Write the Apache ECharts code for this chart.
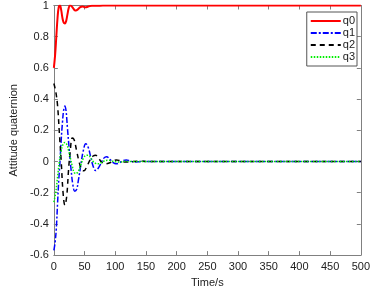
<!DOCTYPE html>
<html>
<head>
    <meta charset="UTF-8">
    <title>Attitude quaternion</title>
    <script src="https://cdn.jsdelivr.net/npm/echarts@6/dist/echarts.min.js"></script>
</head>
<body style="margin:0;overflow:hidden;background:#fff;">
<div id="chart" style="width:373px;height:293px;"></div>
<script type="text/javascript">
    // [time (s), value] samples
    var q0Data = [[0, 0.6], [2, 0.68], [4, 0.8], [6, 0.92], [8, 0.99], [10, 1.0], [12, 0.97], [14, 0.92], [16, 0.89], [18, 0.885],
        [20, 0.9], [22, 0.94], [24, 0.98], [26, 1.0], [28, 0.998], [31, 0.985], [34, 0.97], [36, 0.968], [39, 0.975], [43, 0.99],
        [47, 0.993], [51, 0.988], [56, 0.993], [62, 0.999], [70, 0.998], [80, 1.0], [100, 1.0], [150, 1.0], [500, 1.0]];
    var q1Data = [[0, -0.57], [2, -0.52], [4, -0.43], [6, -0.27], [8, -0.12], [10, 0.0], [12, 0.14], [14, 0.25], [16, 0.33],
        [18, 0.355], [20, 0.32], [22, 0.22], [25, 0.08], [28, -0.05], [31, -0.15], [34, -0.19], [37, -0.18], [40, -0.12],
        [44, -0.02], [48, 0.07], [52, 0.114], [56, 0.09], [60, 0.03], [64, -0.03], [68, -0.058], [72, -0.045], [77, -0.01],
        [81, 0.02], [86, 0.031], [91, 0.015], [96, -0.005], [101, -0.015], [106, -0.01], [112, 0.004], [118, 0.01],
        [124, 0.004], [130, -0.003], [138, -0.002], [145, 0.001], [155, 0], [200, 0], [500, 0]];
    var q2Data = [[0, 0.5], [3, 0.45], [6, 0.36], [9, 0.18], [12, 0.0], [15, -0.2], [18, -0.28], [21, -0.22], [24, -0.05],
        [27, 0.08], [30, 0.15], [33, 0.14], [37, 0.07], [41, 0.0], [45, -0.05], [49, -0.06], [54, -0.03], [59, 0.01],
        [64, 0.035], [68, 0.04], [73, 0.02], [78, -0.005], [84, -0.015], [90, -0.01], [96, 0.003], [102, 0.01],
        [108, 0.005], [115, -0.003], [122, -0.004], [130, 0.0], [140, 0.002], [150, 0], [200, 0], [500, 0]];
    var q3Data = [[0, -0.26], [3, -0.2], [6, -0.1], [9, 0.0], [12, 0.07], [15, 0.11], [18, 0.122], [21, 0.11], [24, 0.07],
        [27, 0.02], [30, -0.03], [33, -0.07], [36, -0.078], [40, -0.06], [44, -0.02], [48, 0.02], [52, 0.038], [56, 0.04],
        [60, 0.025], [64, 0.0], [68, -0.012], [72, -0.015], [77, -0.008], [82, 0.003], [88, 0.008], [94, 0.004],
        [100, -0.002], [108, -0.003], [116, 0.001], [125, 0], [200, 0], [500, 0]];
    var seriesNames = ['q0', 'q1', 'q2', 'q3'];

    var axisColor = '#808080';
    var font = 'Liberation Sans, Arial, sans-serif';

    function boxAxis(pos, isX) {
        return {
            type: 'value',
            position: pos,
            min: isX ? 0 : -0.6,
            max: isX ? 500 : 1,
            interval: isX ? 50 : 0.2,
            axisLine: {show: true, onZero: false, lineStyle: {color: axisColor, width: 1}},
            axisTick: {show: true, inside: true, length: 4, lineStyle: {color: axisColor}},
            splitLine: {show: false},
            axisLabel: {show: false}
        };
    }

    var xMain = boxAxis('bottom', true);
    xMain.axisLabel = {show: true, color: '#222', fontSize: 11, fontFamily: font, margin: 6};
    xMain.name = 'Time/s';
    xMain.nameLocation = 'middle';
    xMain.nameGap = 19;
    xMain.nameTextStyle = {color: '#222', fontSize: 11, fontFamily: font};
    var xTop = boxAxis('top', true);

    var yMain = boxAxis('left', false);
    yMain.axisLabel = {show: true, color: '#222', fontSize: 11, fontFamily: font, margin: 5,
        formatter: function (v) { return String(Math.round(v * 10) / 10); }};
    yMain.name = 'Attitude quaternion';
    yMain.nameLocation = 'middle';
    yMain.nameGap = 29;
    yMain.nameTextStyle = {color: '#222', fontSize: 11, fontFamily: font};
    var yRight = boxAxis('right', false);

    var chart = echarts.init(document.getElementById('chart'), null, {renderer: 'canvas'});
    chart.setOption({
        animation: false,
        backgroundColor: '#fff',
        grid: {left: 36, right: 10, top: 5, bottom: 30},
        legend: {
            data: seriesNames,
            orient: 'vertical',
            right: 16,
            top: 12,
            backgroundColor: '#fff',
            borderColor: '#555',
            borderWidth: 1,
            borderRadius: 0,
            padding: [3, 2, 3, 3],
            itemGap: 0,
            itemWidth: 30,
            itemHeight: 12,
            itemStyle: {opacity: 0},
            textStyle: {color: '#222', fontSize: 11, fontFamily: font, lineHeight: 12, padding: [0, 0, 0, -3]}
        },
        xAxis: [xMain, xTop],
        yAxis: [yMain, yRight],
        series: [
            {name: 'q0', type: 'line', data: q0Data, symbol: 'none', smooth: 0.4, z: 5,
                lineStyle: {color: '#ff0000', width: 2}, itemStyle: {color: '#ff0000'}},
            {name: 'q1', type: 'line', data: q1Data, symbol: 'none', smooth: 0.4,
                lineStyle: {color: '#0000ff', width: 1.5, type: [6, 2, 2, 2]}, itemStyle: {color: '#0000ff'}},
            {name: 'q2', type: 'line', data: q2Data, symbol: 'none', smooth: 0.4,
                lineStyle: {color: '#000000', width: 1.5, type: [5, 4]}, itemStyle: {color: '#000000'}},
            {name: 'q3', type: 'line', data: q3Data, symbol: 'none', smooth: 0.4,
                lineStyle: {color: '#00ee00', width: 1.5, type: [1.5, 1.5]}, itemStyle: {color: '#00ee00'}}
        ]
    });
</script>
</body>
</html>
